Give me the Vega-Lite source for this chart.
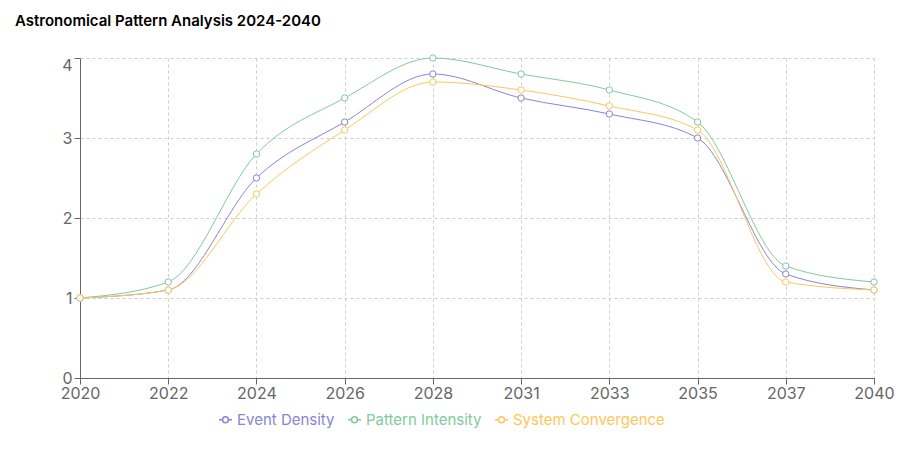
{
  "$schema": "https://vega.github.io/schema/vega-lite/v6.json",
  "width": 794,
  "height": 320,
  "autosize": "none",
  "padding": {"left": 80, "top": 58, "right": 25, "bottom": 74},
  "background": "white",
  "title": {
    "text": "Astronomical Pattern Analysis 2024-2040",
    "anchor": "start",
    "frame": "group",
    "dx": -65,
    "offset": 24,
    "fontSize": 15,
    "fontWeight": 600,
    "font": "Inter",
    "color": "#000"
  },
  "config": {
    "view": {"stroke": null},
    "font": "Inter"
  },
  "data": {
    "values": [
      {"year": "2020", "series": "Event Density", "value": 1.0},
      {"year": "2022", "series": "Event Density", "value": 1.1},
      {"year": "2024", "series": "Event Density", "value": 2.5},
      {"year": "2026", "series": "Event Density", "value": 3.2},
      {"year": "2028", "series": "Event Density", "value": 3.8},
      {"year": "2031", "series": "Event Density", "value": 3.5},
      {"year": "2033", "series": "Event Density", "value": 3.3},
      {"year": "2035", "series": "Event Density", "value": 3.0},
      {"year": "2037", "series": "Event Density", "value": 1.3},
      {"year": "2040", "series": "Event Density", "value": 1.1},
      {"year": "2020", "series": "Pattern Intensity", "value": 1.0},
      {"year": "2022", "series": "Pattern Intensity", "value": 1.2},
      {"year": "2024", "series": "Pattern Intensity", "value": 2.8},
      {"year": "2026", "series": "Pattern Intensity", "value": 3.5},
      {"year": "2028", "series": "Pattern Intensity", "value": 4.0},
      {"year": "2031", "series": "Pattern Intensity", "value": 3.8},
      {"year": "2033", "series": "Pattern Intensity", "value": 3.6},
      {"year": "2035", "series": "Pattern Intensity", "value": 3.2},
      {"year": "2037", "series": "Pattern Intensity", "value": 1.4},
      {"year": "2040", "series": "Pattern Intensity", "value": 1.2},
      {"year": "2020", "series": "System Convergence", "value": 1.0},
      {"year": "2022", "series": "System Convergence", "value": 1.1},
      {"year": "2024", "series": "System Convergence", "value": 2.3},
      {"year": "2026", "series": "System Convergence", "value": 3.1},
      {"year": "2028", "series": "System Convergence", "value": 3.7},
      {"year": "2031", "series": "System Convergence", "value": 3.6},
      {"year": "2033", "series": "System Convergence", "value": 3.4},
      {"year": "2035", "series": "System Convergence", "value": 3.1},
      {"year": "2037", "series": "System Convergence", "value": 1.2},
      {"year": "2040", "series": "System Convergence", "value": 1.1}
    ]
  },
  "encoding": {
    "x": {
      "field": "year",
      "type": "ordinal",
      "scale": {"type": "point", "padding": 0},
      "axis": {
        "title": null,
        "labelAngle": 0,
        "labelFontSize": 16,
        "labelColor": "#666",
        "labelPadding": 1,
        "domainColor": "#666",
        "domainWidth": 1,
        "tickColor": "#666",
        "tickSize": 6,
        "grid": true,
        "gridColor": "#ccc",
        "gridDash": [3, 3],
        "gridWidth": 1
      }
    },
    "y": {
      "field": "value",
      "type": "quantitative",
      "scale": {"domain": [0, 4], "nice": false},
      "axis": {
        "title": null,
        "values": [0, 1, 2, 3, 4],
        "labelFontSize": 16,
        "labelColor": "#666",
        "labelPadding": 2,
        "labelOffset": {"condition": {"test": "datum.value == 4", "value": 7}, "value": 0},
        "domainColor": "#666",
        "domainWidth": 1,
        "tickColor": "#666",
        "tickSize": 6,
        "grid": true,
        "gridColor": "#ccc",
        "gridDash": [3, 3],
        "gridWidth": 1
      }
    },
    "color": {
      "field": "series",
      "type": "nominal",
      "scale": {
        "domain": ["Event Density", "Pattern Intensity", "System Convergence"],
        "range": ["#8884d8", "#82ca9d", "#ffc658"]
      },
      "legend": {
        "title": null,
        "orient": "none",
        "legendX": 138,
        "legendY": 354,
        "direction": "horizontal",
        "labelFontSize": 15,
        "symbolType": "M-1,0L-0.45,0M0.45,0L1,0M0.45,0A0.45,0.45 0 1,1 -0.45,0A0.45,0.45 0 1,1 0.45,0",
        "symbolSize": 170,
        "symbolStrokeWidth": 1.5,
        "symbolFillColor": "white",
        "labelOffset": 4,
        "columnPadding": 9,
        "encode": {
          "labels": {"update": {"fill": {"scale": "color", "field": "value"}}}
        }
      }
    }
  },
  "layer": [
    {
      "mark": {"type": "line", "interpolate": "monotone", "strokeWidth": 1}
    },
    {
      "mark": {"type": "point", "filled": false, "fill": "white", "fillOpacity": 1, "opacity": 1, "size": 40, "strokeWidth": 1}
    }
  ]
}
